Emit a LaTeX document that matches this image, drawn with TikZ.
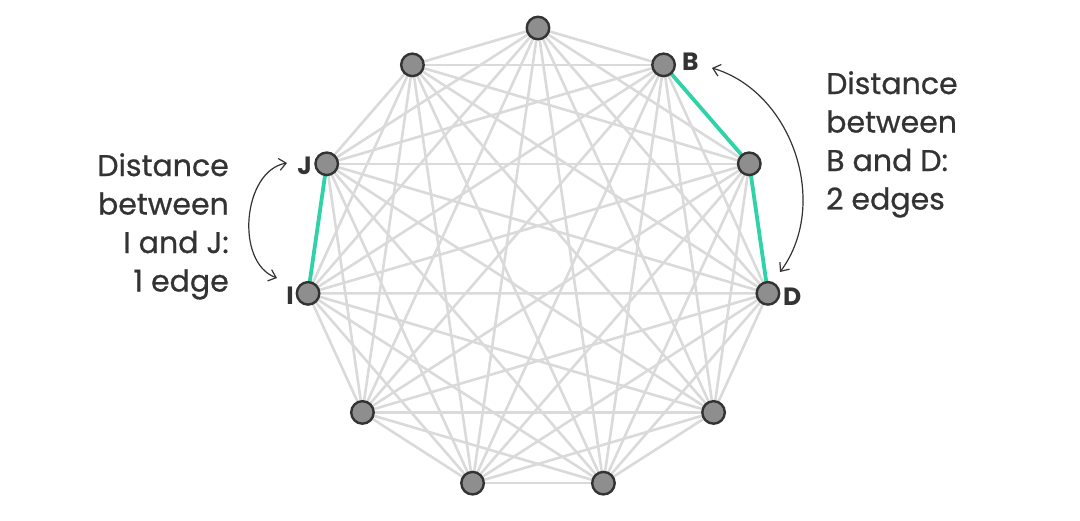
\documentclass[tikz,border=0pt]{standalone}
\usepackage{fontspec}
\setmainfont{Poppins}
\newfontfamily\notefont{Poppins}[FakeBold=0.7]
\usetikzlibrary{arrows.meta}
\definecolor{edgegray}{RGB}{218,218,218}
\definecolor{nodegray}{RGB}{142,142,142}
\definecolor{dark}{RGB}{51,51,51}
\definecolor{teal}{RGB}{48,210,168}
\tikzset{
  edge/.style={draw=edgegray, line width=2.6pt},
  hl/.style={draw=teal, line width=3.8pt},
  vtx/.style={circle, fill=nodegray, draw=dark, line width=2.4pt, minimum size=22.5pt, inner sep=0pt},
  lbl/.style={text=dark, font=\fontsize{25}{25}\selectfont\bfseries, inner sep=0pt},
  note/.style={text=dark, font=\notefont\fontsize{30}{38.5}\selectfont, inner sep=0pt},
  arr/.style={draw=dark, line width=1.2pt, {Straight Barb[length=7pt,width=12pt]}-{Straight Barb[length=7pt,width=12pt]}}
}
\begin{document}
\begin{tikzpicture}[x=1pt, y=-1pt]
\useasboundingbox (0,0) rectangle (1080,521);
\foreach \k in {0,...,10} {
  \pgfmathsetmacro{\a}{90-\k*360/11}
  \coordinate (v\k) at ({538+232.3*cos(\a)}, {260.3-232.3*sin(\a)});
}
\foreach \i in {0,...,9} {
  \pgfmathtruncatemacro{\s}{\i+1}
  \foreach \j in {\s,...,10} {
    \draw[edge] (v\i) -- (v\j);
  }
}
\draw[hl] (v1) -- (v2) -- (v3);
\draw[hl] (v8) -- (v9);
\foreach \k in {0,...,10} {
  \node[vtx] (n\k) at (v\k) {};
}
\node[lbl, anchor=west] (lB) at (682,62) {B};
\node[lbl, anchor=west] (lD) at (783,297) {D};
\node[lbl, anchor=east] (lJ) at (312,166) {J};
\node[lbl, anchor=east] (lI) at (294,296) {I};
\node[note, anchor=north west, align=left] (tR) at (826,71) {Distance\\between\\B and D:\\2 edges};
\node[note, anchor=north east, align=right] (tL) at (229,153) {Distance\\between\\I and J:\\1 edge};
\coordinate (aB) at (712,68);
\coordinate (aD) at (780,272);
\coordinate (aJ) at (287,163);
\coordinate (aI) at (277,278);
\draw[arr] (aB) to[bend left=55] (aD);
\draw[arr] (aJ) to[bend right=75] (aI);
\end{tikzpicture}
\end{document}
